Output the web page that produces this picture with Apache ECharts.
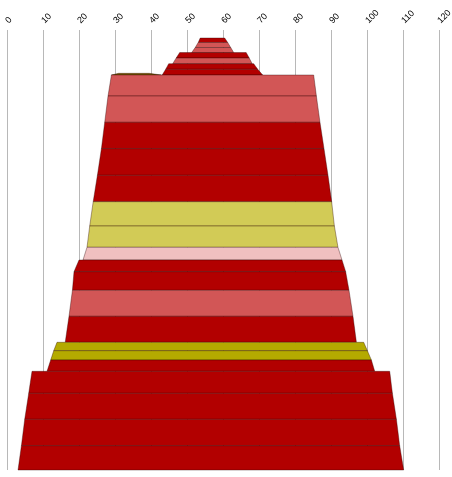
<!DOCTYPE html>
<html>
<head>
<meta charset="utf-8">
<script src="https://cdn.jsdelivr.net/npm/echarts@6/dist/echarts.min.js"></script>
<style>
html,body{margin:0;padding:0;background:#fff;}
#chart{width:452px;height:477px;}
</style>
</head>
<body>
<div id="chart"></div>
<script>
// Layers from top to bottom: depth of top/bottom, x extent at top and at bottom, lithology type
var layerTop    = [7,   11.5, 16.5, 21.5, 27,   32.7, 38.3, 42.3, 44,   65,   91.3,  117.7, 144.3, 170.7, 195,   216.3, 229,   240.7, 259.3, 285.3, 311.3, 319.7, 329,    340.3, 362.3, 388.3, 414.7];
var layerBottom = [11.5,16.5, 21.5, 27,   32.7, 38.3, 44,   44,   65,   91.3, 117.7, 144.3, 170.7, 195,   216.3, 229,   240.7, 259.3, 285.3, 311.3, 319.7, 329,   340.3,  362.3, 388.3, 414.7, 439];
var leftTop     = [53.67,53.11,52.28,47.97,47.0, 44.92,44.08,31.0, 29.0, 28.06,27.14, 26.22, 25.11, 23.94, 22.97, 22.22, 20.0,  18.61, 18.17, 17.22, 13.89, 12.97, 12.14,  6.94,  6.03,  4.92,  4.0];
var rightTop    = [60.47,61.31,62.14,66.44,67.28,68.53,69.64,39.5, 85.19,85.94,86.94, 88.06, 89.17, 90.19, 90.94, 91.94, 93.06, 94.08, 95.0,  96.11, 99.08, 100.11,101.22, 106.31,107.06,108.17,109.08];
var leftBottom  = [53.11,52.28,51.31,47.0, 46.03,44.08,43.11,29.0, 28.06,27.14,26.22, 25.11, 23.94, 22.97, 22.22, 21.11, 18.61, 18.17, 17.22, 16.17, 12.97, 12.14, 11.11,  6.03,  4.92,  4.0,   3.06];
var rightBottom = [61.31,62.14,62.97,67.28,68.11,69.64,71.03,42.89,85.94,86.94,88.06, 89.17, 90.19, 90.94, 91.94, 93.06, 94.08, 95.0,  96.11, 97.06, 100.11,101.22,102.14, 107.06,108.17,109.08,110.19];
var layerType   = ['A','B','B','A','B','A','A','D','B','B','A','A','A','C','C','E','A','A','B','A','F','F','A','A','A','A','A'];
var xTicks = [0,10,20,30,40,50,60,70,80,90,100,110,120];

var palette = {
  A: '#b20000',
  B: '#d25656',
  C: '#d2cb56',
  D: '#7a5c00',
  E: '#f0c0c0',
  F: '#b4aa00'
};

var data = layerTop.map(function (t, i) {
  return [t, layerBottom[i], leftTop[i], rightTop[i], leftBottom[i], rightBottom[i], i];
});

var chart = echarts.init(document.getElementById('chart'));
chart.setOption({
  animation: false,
  grid: { left: 7, right: 13, top: 30, bottom: 7, containLabel: false, outerBoundsMode: 'none' },
  xAxis: {
    type: 'value',
    position: 'top',
    min: xTicks[0],
    max: xTicks[xTicks.length - 1],
    interval: 10,
    axisLine: { show: false },
    axisTick: { show: false },
    splitLine: { show: true, lineStyle: { color: '#b8b8b8', width: 1 } },
    axisLabel: {
      rotate: 45,
      fontSize: 9,
      color: '#000',
      fontFamily: 'Liberation Sans, Arial, sans-serif',
      margin: 8,
      hideOverlap: false
    }
  },
  yAxis: {
    type: 'value',
    inverse: true,
    min: -1,
    max: 439,
    show: false,
    splitLine: { show: false }
  },
  series: [{
    type: 'custom',
    data: data,
    encode: { x: [2, 3, 4, 5], y: [0, 1] },
    renderItem: function (params, api) {
      var t = api.value(0), b = api.value(1);
      var p1 = api.coord([api.value(2), t]);
      var p2 = api.coord([api.value(3), t]);
      var p3 = api.coord([api.value(5), b]);
      var p4 = api.coord([api.value(4), b]);
      var idx = api.value(6);
      return {
        type: 'polygon',
        shape: { points: [p1, p2, p3, p4] },
        style: {
          fill: palette[layerType[idx]],
          stroke: 'rgba(40,0,0,0.45)',
          lineWidth: 0.8
        }
      };
    }
  }]
});
</script>
</body>
</html>
